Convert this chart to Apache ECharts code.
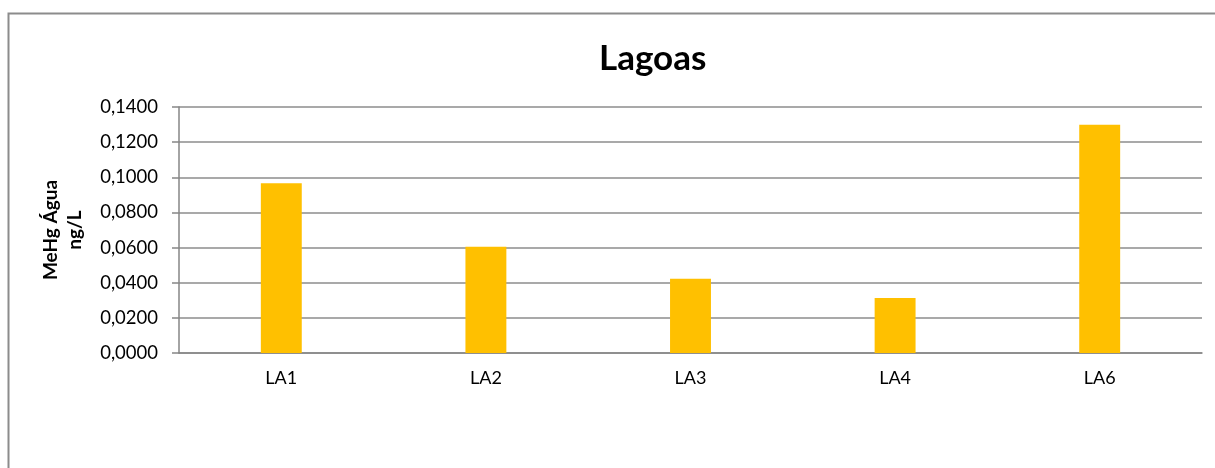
<!DOCTYPE html>
<html>
<head>
<meta charset="utf-8">
<script src="https://cdn.jsdelivr.net/npm/echarts@6/dist/echarts.min.js"></script>
<style>
html,body{margin:0;padding:0;background:#fff;}
#chart{width:1215px;height:468px;}
</style>
</head>
<body>
<div id="chart"></div>
<script>
const categories = ['LA1', 'LA2', 'LA3', 'LA4', 'LA6'];
const values = [0.0966, 0.0605, 0.0423, 0.0313, 0.1299];
const titleText = 'Lagoas';
const yAxisName = 'MeHg Água\nng/L';

const chart = echarts.init(document.getElementById('chart'), null, {renderer: 'canvas'});
const FONT = 'Lato, "Open Sans", sans-serif';
chart.setOption({
  backgroundColor: '#ffffff',
  animation: false,
  graphic: [{
    type: 'rect',
    shape: {x: 8.5, y: 13.5, width: 1230, height: 500},
    style: {fill: 'none', stroke: '#8c8c8c', lineWidth: 2},
    silent: true
  }],
  title: {
    text: titleText,
    left: 594,
    top: 36,
    textStyle: {fontFamily: FONT, fontWeight: 'bold', fontSize: 35, color: '#000'}
  },
  grid: {left: 179, right: 13, top: 107, bottom: 115, containLabel: false},
  xAxis: {
    type: 'category',
    data: categories,
    axisLine: {lineStyle: {color: '#868686', width: 1.5}},
    axisTick: {show: false},
    axisLabel: {fontFamily: FONT, fontSize: 18, color: '#000', margin: 16}
  },
  yAxis: {
    type: 'value',
    min: 0,
    max: 0.14,
    interval: 0.02,
    name: yAxisName,
    nameLocation: 'middle',
    nameGap: 92,
    nameRotate: 90,
    nameTextStyle: {fontFamily: FONT, fontWeight: 'bold', fontSize: 19, color: '#000', lineHeight: 24},
    axisLine: {show: true, lineStyle: {color: '#868686', width: 1.5}},
    axisTick: {show: true, length: 7, lineStyle: {color: '#868686', width: 1.5}},
    axisLabel: {
      fontFamily: FONT, fontSize: 18.5, color: '#000', margin: 21,
      formatter: v => v.toFixed(4).replace('.', ',')
    },
    splitLine: {lineStyle: {color: '#8c8c8c', width: 1.5}}
  },
  series: [{
    type: 'bar',
    data: values,
    barWidth: '20%',
    itemStyle: {color: '#ffc000'}
  }]
});
</script>
</body>
</html>
